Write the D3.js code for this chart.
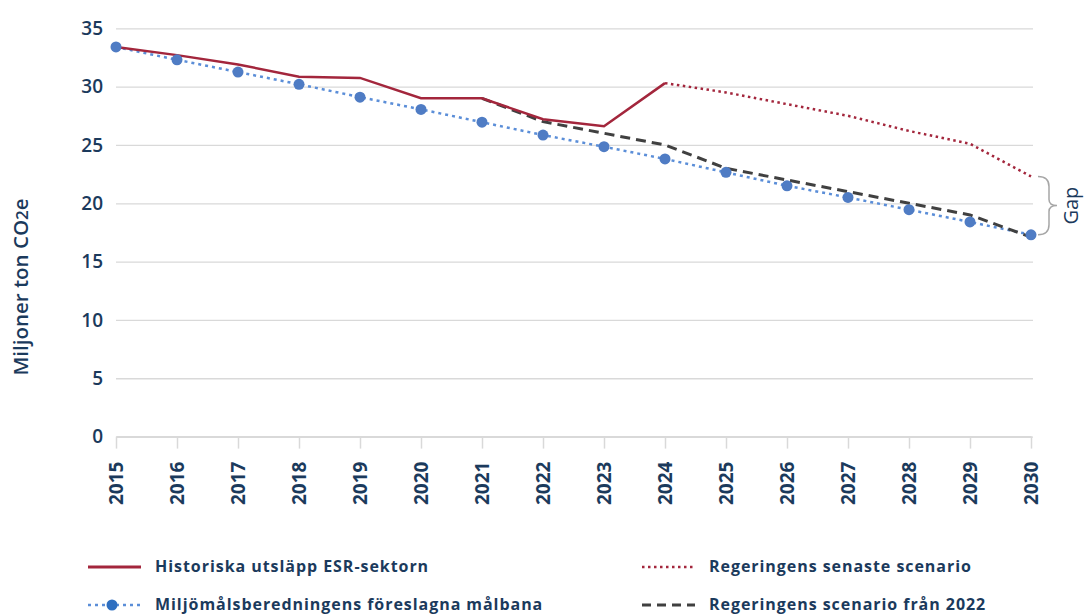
<!DOCTYPE html>
<html>
<head>
<meta charset="utf-8">
<script src="https://cdn.jsdelivr.net/npm/d3@7"></script>
<style>
  body { margin: 0; background: #fff; }
  text { font-family: "Open Sans", sans-serif; fill: #1b3a5c; }
</style>
</head>
<body>
<div id="chart"></div>
<script>
// data
const years = [2015, 2016, 2017, 2018, 2019, 2020, 2021, 2022, 2023, 2024, 2025, 2026, 2027, 2028, 2029, 2030];
const historiska = [33.4, 32.7, 31.9, 30.85, 30.75, 29.0, 29.0, 27.2, 26.6, 30.3];
const senaste = [30.3, 29.5, 28.5, 27.5, 26.2, 25.1, 22.3]; // 2024-2030
const malbana = [33.4, 32.3, 31.25, 30.2, 29.1, 28.05, 26.95, 25.85, 24.85, 23.8, 22.65, 21.5, 20.5, 19.45, 18.4, 17.3];
const scenario2022 = [29.0, 27.0, 26.0, 25.0, 23.0, 22.0, 21.0, 20.0, 19.0, 17.1]; // 2021-2030
const yTicks = [0, 5, 10, 15, 20, 25, 30, 35];
const legendLabels = [
  "Historiska utsläpp ESR-sektorn",
  "Regeringens senaste scenario",
  "Miljömålsberedningens föreslagna målbana",
  "Regeringens scenario från 2022"
];

const width = 1085, height = 614;
const plotLeft = 116, plotRight = 1031, plotTop = 28.3, plotBottom = 436.6;

const svg = d3.select("#chart").append("svg")
  .attr("width", width)
  .attr("height", height);

const x = d3.scaleLinear().domain([2015, 2030]).range([plotLeft, plotRight]);
const y = d3.scaleLinear().domain([0, 35]).range([plotBottom, plotTop]);

const red = "#a3263c", blue = "#5b8ed8", blueDot = "#4f7cc4", dark = "#404040";

// gridlines + y labels
const yAxis = svg.append("g")
  .attr("transform", `translate(${plotLeft},0)`)
  .call(d3.axisLeft(y).tickValues(yTicks).tickSize(-(plotRight - plotLeft + 2)).tickPadding(13));
yAxis.select(".domain").remove();
yAxis.selectAll(".tick line").attr("stroke", "#d9d9d9").attr("stroke-width", 1.3);
yAxis.selectAll(".tick text")
  .style("font-size", "19px").style("font-weight", 600).attr("fill", "#1b3a5c");

// x axis
const xAxis = svg.append("g")
  .attr("transform", `translate(0,${plotBottom})`)
  .call(d3.axisBottom(x).tickValues(years).tickFormat(d3.format("d")).tickSize(12).tickSizeOuter(0));
xAxis.select(".domain").attr("stroke", "#d9d9d9").attr("stroke-width", 2);
xAxis.selectAll(".tick line").attr("stroke", "#d9d9d9").attr("stroke-width", 1.5);
xAxis.selectAll(".tick text")
  .attr("transform", "rotate(-90)")
  .attr("x", -25).attr("y", 0).attr("dy", "0.35em")
  .style("text-anchor", "end")
  .style("font-size", "19px").style("font-weight", 700).attr("fill", "#1b3a5c");

// y title
const yTitle = svg.append("text")
  .attr("transform", `translate(28,${(198 + 376) / 2}) rotate(-90)`)
  .attr("text-anchor", "middle")
  .style("font-size", "20.5px").style("font-weight", 600);
yTitle.append("tspan").text("Miljoner ton CO");
yTitle.append("tspan").text("2").style("font-size", "17px");
yTitle.append("tspan").text("e");

const line = d3.line().x(d => x(d[0])).y(d => y(d[1]));

// lines
svg.append("path")
  .datum(years.map((yr, i) => [yr, malbana[i]]))
  .attr("d", line).attr("fill", "none")
  .attr("stroke", blue).attr("stroke-width", 2.5)
  .attr("stroke-dasharray", "3 4");

svg.append("path")
  .datum(scenario2022.map((v, i) => [2021 + i, v]))
  .attr("d", line).attr("fill", "none")
  .attr("stroke", dark).attr("stroke-width", 3)
  .attr("stroke-dasharray", "10 6");

svg.append("path")
  .datum(senaste.map((v, i) => [2024 + i, v]))
  .attr("d", line).attr("fill", "none")
  .attr("stroke", red).attr("stroke-width", 2.5)
  .attr("stroke-dasharray", "2.5 3.5");

svg.append("path")
  .datum(historiska.map((v, i) => [years[i], v]))
  .attr("d", line).attr("fill", "none")
  .attr("stroke", red).attr("stroke-width", 2.5);

svg.selectAll(".dot")
  .data(years.map((yr, i) => [yr, malbana[i]]))
  .enter().append("circle")
  .attr("cx", d => x(d[0])).attr("cy", d => y(d[1]))
  .attr("r", 5.5).attr("fill", blueDot);

// gap brace
const gTop = y(senaste[senaste.length - 1]), gBot = y(malbana[malbana.length - 1]);
const bx = plotRight + 7, mid = (gTop + gBot) / 2;
svg.append("path")
  .attr("d", `M${bx},${gTop} Q${bx + 11},${gTop} ${bx + 11},${gTop + 10} L${bx + 11},${mid - 6} Q${bx + 11},${mid} ${bx + 19},${mid}` +
             ` Q${bx + 11},${mid} ${bx + 11},${mid + 6} L${bx + 11},${gBot - 10} Q${bx + 11},${gBot} ${bx},${gBot}`)
  .attr("fill", "none").attr("stroke", "#a6a6a6").attr("stroke-width", 1.5);
svg.append("text")
  .attr("transform", `translate(${bx + 40},${mid}) rotate(-90)`)
  .attr("text-anchor", "middle")
  .style("font-size", "20px")
  .text("Gap");

// legend
const legendPos = [[88, 567], [642, 567], [88, 605], [642, 605]];
const legendStyle = [
  { stroke: red, dash: null, w: 3 },
  { stroke: red, dash: "2.5 3.5", w: 2.5 },
  { stroke: blue, dash: "3 4", w: 2.5, dot: true },
  { stroke: dark, dash: "9 6", w: 3 }
];
const leg = svg.selectAll(".legend")
  .data(legendLabels)
  .enter().append("g")
  .attr("transform", (d, i) => `translate(${legendPos[i][0]},${legendPos[i][1]})`);
leg.append("line")
  .attr("x1", 0).attr("x2", 53).attr("y1", 0).attr("y2", 0)
  .attr("stroke", (d, i) => legendStyle[i].stroke)
  .attr("stroke-width", (d, i) => legendStyle[i].w)
  .attr("stroke-dasharray", (d, i) => legendStyle[i].dash);
leg.filter((d, i) => legendStyle[i].dot).append("circle")
  .attr("cx", 24).attr("cy", 0).attr("r", 5.5).attr("fill", "#2f6fc0");
leg.append("text")
  .attr("x", 67).attr("dy", "0.3em")
  .style("font-size", "16px").style("font-weight", 700)
  .style("letter-spacing", "0.95px")
  .text(d => d);
</script>
</body>
</html>
